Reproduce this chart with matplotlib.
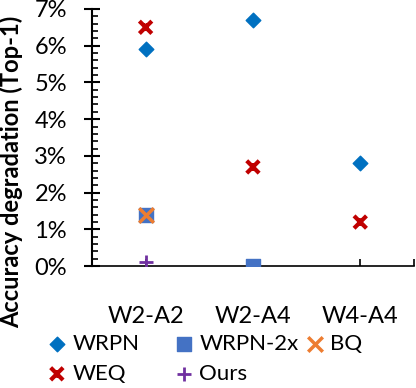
import matplotlib.pyplot as plt
from matplotlib.path import Path
from matplotlib.ticker import MultipleLocator, PercentFormatter

# categories and values (accuracy degradation, %)
configs = ['W2-A2', 'W2-A4', 'W4-A4']
wrpn = [5.9, 6.7, 2.8]
wrpn_2x = [1.4, 0.0, None]
bq = [1.4, None, None]
weq = [6.5, 2.7, 1.2]
ours = [0.1, None, None]

plt.rcParams['font.family'] = ['Lato', 'DejaVu Sans']

# excel-style "star" marker: an X with a short vertical stroke
star = Path([(-1, -1), (1, 1), (-1, 1), (1, -1), (0, -0.6), (0, 0.6)],
            [Path.MOVETO, Path.LINETO, Path.MOVETO, Path.LINETO, Path.MOVETO, Path.LINETO])

fig = plt.figure(figsize=(4.16, 3.88), dpi=100)
ax = fig.add_axes([0.221, 0.314, 0.774, 0.663])


def pts(vals):
    xs = [i for i, v in enumerate(vals) if v is not None]
    ys = [v for v in vals if v is not None]
    return xs, ys


x, y = pts(wrpn)
h1 = ax.scatter(x, y, marker='D', s=55, color='#0070C0', label='WRPN', zorder=3)
x, y = pts(wrpn_2x)
h2 = ax.scatter(x, y, marker='s', s=95, color='#4472C4', label='WRPN-2x', zorder=3)
x, y = pts(bq)
h3 = ax.scatter(x, y, marker='x', s=110, color='#ED7D31', linewidths=2.5, label='BQ', zorder=4)
x, y = pts(weq)
h4 = ax.scatter(x, y, marker=star, s=80, facecolors='none', edgecolors='#C00000',
                linewidths=3, label='WEQ', zorder=3)
x, y = pts(ours)
h5 = ax.scatter(x, y, marker='+', s=110, color='#7030A0', linewidths=2, label='Ours', zorder=4)

ax.set_xlim(-0.5, 2.5)
ax.set_ylim(0, 7)
ax.yaxis.set_major_locator(MultipleLocator(1))
ax.yaxis.set_minor_locator(MultipleLocator(0.2))
ax.yaxis.set_major_formatter(PercentFormatter(decimals=0))
ax.set_xticks([-0.5, 0, 1, 2, 2.5])
ax.set_xticklabels(['', configs[0], configs[1], configs[2], ''])

for s in ['top', 'right']:
    ax.spines[s].set_visible(False)
ax.spines['left'].set_linewidth(1.5)
ax.spines['bottom'].set_linewidth(1.2)

ax.tick_params(axis='y', which='major', direction='inout', length=12, width=1.5,
               labelsize=17, pad=12)
ax.tick_params(axis='y', which='minor', direction='in', length=4, width=1.2)
ax.tick_params(axis='x', which='major', direction='in', length=5, width=1.2,
               labelsize=17, pad=29)

ax.set_ylabel('Accuracy degradation (Top-1)', fontsize=17, fontweight='bold')
ax.yaxis.set_label_coords(-0.215, 0.366)

# three legend columns placed like excel's fixed-width layout
cols = [([h1, h4], 0.11), ([h2, h5], 0.415), ([h3], 0.73)]
for handles, xpos in cols:
    leg = fig.legend(handles=handles, loc='upper left', bbox_to_anchor=(xpos, 0.14),
                     frameon=False, fontsize=16, handletextpad=0.2, labelspacing=0.45,
                     borderaxespad=0, borderpad=0, handlelength=1.0)

fig.savefig('out.png', dpi=100)
